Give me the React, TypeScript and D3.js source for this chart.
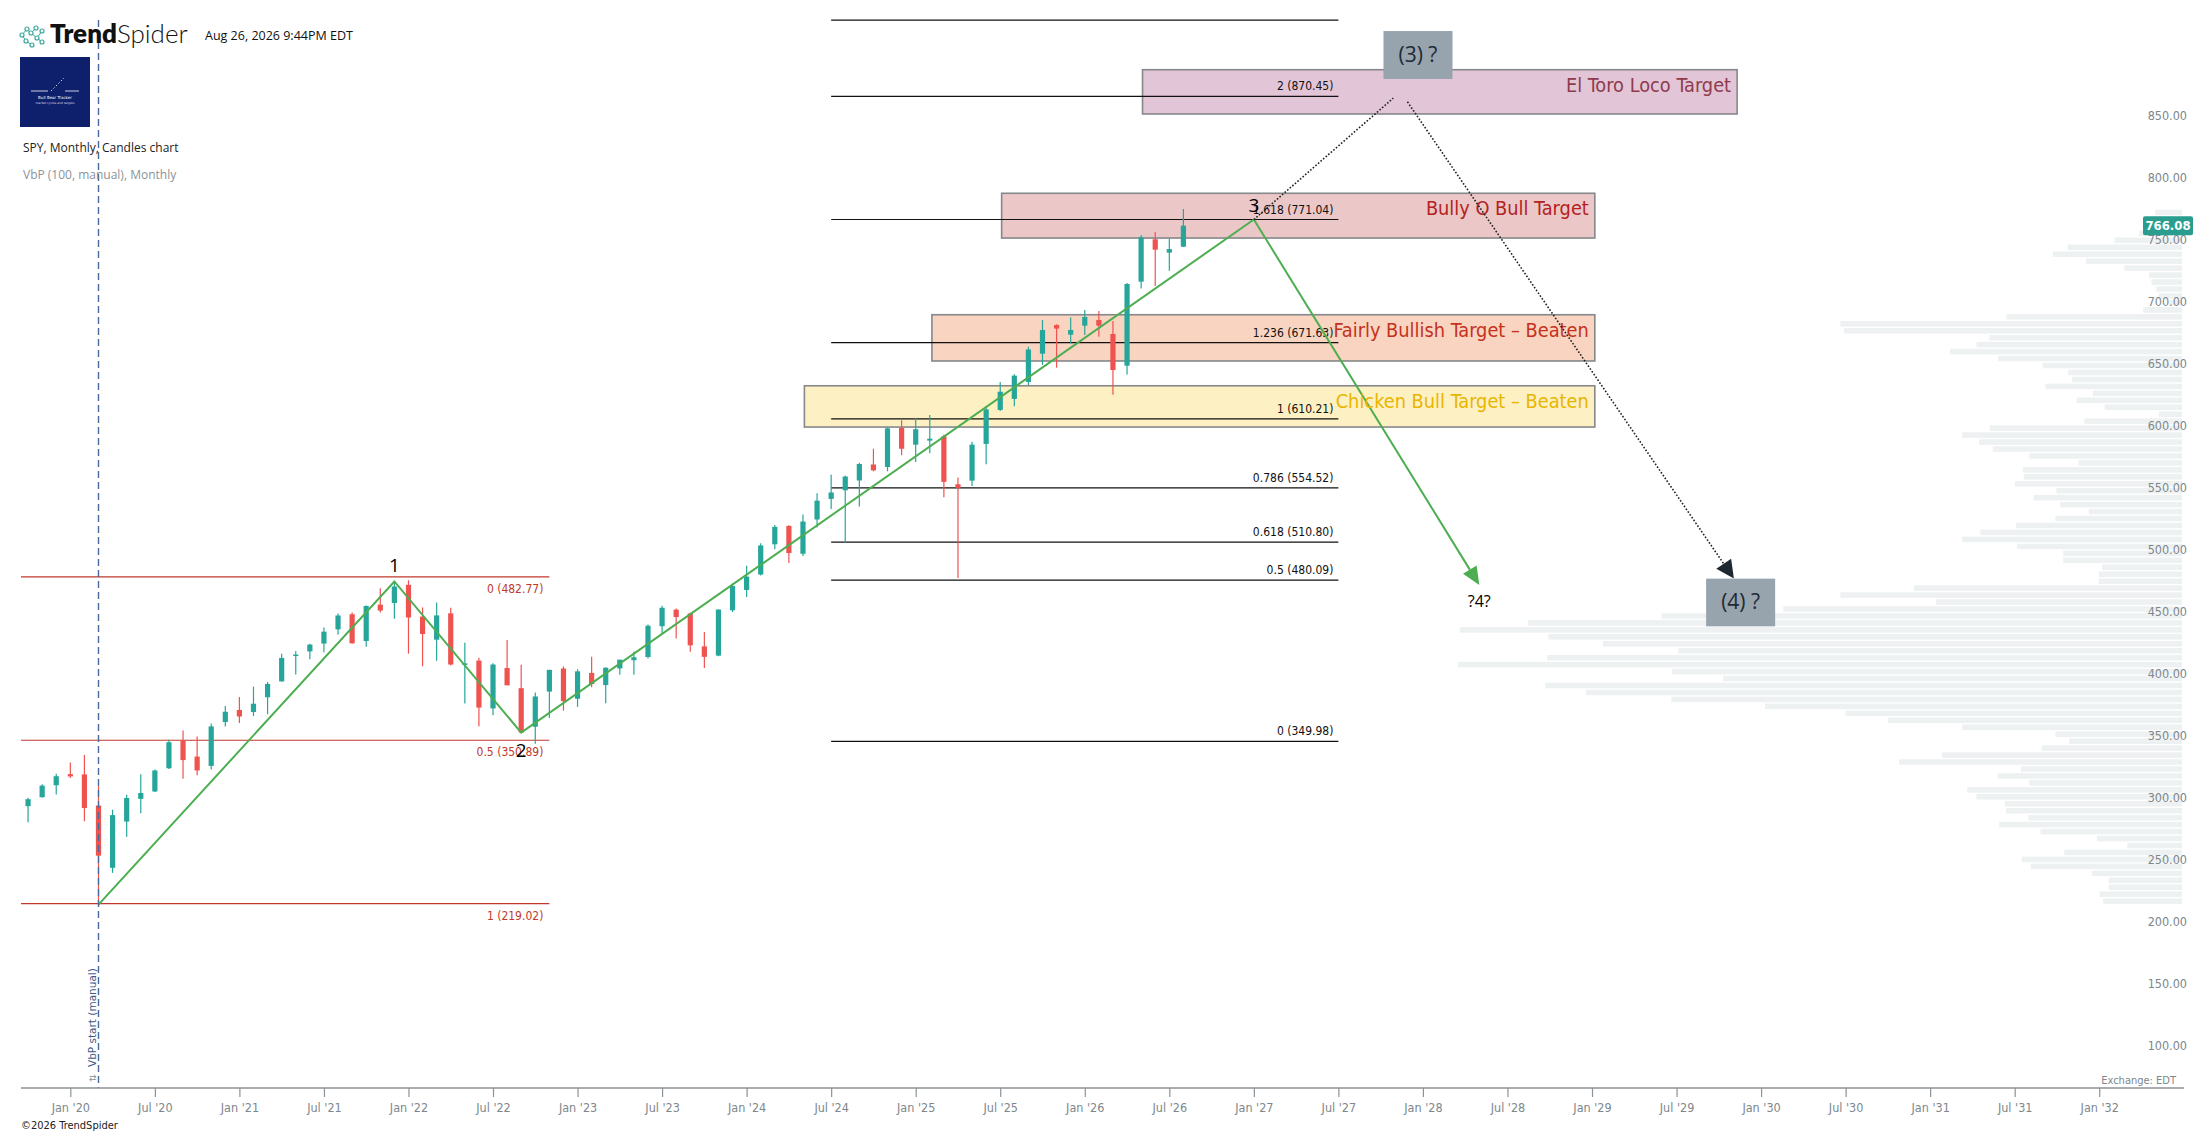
import React, { useEffect, useRef } from 'react';
import * as d3 from 'd3';

const WIDTH = 2207;
const HEIGHT = 1134;

// SPY monthly candles, Oct 2019 .. Aug 2026
const candleMonths = [
  '2019-10', '2019-11', '2019-12',
  '2020-01', '2020-02', '2020-03', '2020-04', '2020-05', '2020-06', '2020-07', '2020-08', '2020-09', '2020-10', '2020-11', '2020-12',
  '2021-01', '2021-02', '2021-03', '2021-04', '2021-05', '2021-06', '2021-07', '2021-08', '2021-09', '2021-10', '2021-11', '2021-12',
  '2022-01', '2022-02', '2022-03', '2022-04', '2022-05', '2022-06', '2022-07', '2022-08', '2022-09', '2022-10', '2022-11', '2022-12',
  '2023-01', '2023-02', '2023-03', '2023-04', '2023-05', '2023-06', '2023-07', '2023-08', '2023-09', '2023-10', '2023-11', '2023-12',
  '2024-01', '2024-02', '2024-03', '2024-04', '2024-05', '2024-06', '2024-07', '2024-08', '2024-09', '2024-10', '2024-11', '2024-12',
  '2025-01', '2025-02', '2025-03', '2025-04', '2025-05', '2025-06', '2025-07', '2025-08', '2025-09', '2025-10', '2025-11', '2025-12',
  '2026-01', '2026-02', '2026-03', '2026-04', '2026-05', '2026-06', '2026-07', '2026-08',
];
const openPrices = [
  297.74, 304.92, 314.59,
  323.54, 323.35, 298.21, 247.98, 285.31, 303.62, 309.57, 328.32, 350.35, 337.69, 330.2, 365.57,
  375.31, 373.72, 385.59, 398.4, 419.43, 422.57, 428.87, 440.34, 452.56, 430.98, 460.3, 461.64,
  476.3, 450.68, 432.03, 453.31, 412.07, 415.17, 376.56, 409.15, 392.89, 361.8, 390.14, 408.77,
  384.37, 405.21, 395.41, 408.85, 415.47, 418.09, 442.92, 456.27, 453.17, 426.62, 419.2, 455.77,
  472.16, 484.63, 508.98, 523.83, 501.38, 529.02, 545.63, 552.57, 560.47, 573.4, 571.32, 602.97,
  589.39, 592.67, 596.18, 557.45, 560.37, 590.0, 617.4, 626.3, 640.0, 662.8, 685.9, 678.1,
  685.4, 690.0, 678.7, 653.1, 720.9, 755.1, 744.3, 749.1,
];
const highPrices = [
  304.55, 315.48, 323.8,
  332.95, 339.08, 313.84, 294.88, 306.84, 323.41, 327.23, 351.3, 358.75, 354.02, 364.38, 378.46,
  385.85, 394.17, 398.0, 420.72, 422.82, 428.78, 441.8, 453.07, 454.05, 459.56, 473.54, 479.0,
  479.98, 458.12, 462.07, 457.83, 429.66, 417.44, 413.03, 431.73, 411.73, 389.52, 407.68, 410.49,
  408.16, 418.31, 409.7, 415.94, 422.58, 444.3, 459.44, 457.25, 453.67, 438.14, 456.38, 477.55,
  491.62, 509.74, 524.61, 524.38, 533.07, 550.28, 565.16, 564.2, 574.71, 586.12, 603.35, 609.07,
  610.78, 613.23, 597.34, 562.94, 591.74, 620.6, 639.84, 646.19, 668.4, 690.0, 686.5, 691.9,
  698.0, 697.2, 689.2, 719.8, 758.5, 761.0, 755.6, 779.5,
];
const lowPrices = [
  284.82, 304.74, 307.13,
  320.36, 285.54, 218.26, 243.9, 272.99, 292.0, 309.07, 327.73, 319.8, 322.6, 327.24, 362.03,
  364.82, 370.38, 371.88, 398.18, 404.0, 416.3, 421.97, 436.1, 428.78, 426.36, 453.96, 448.92,
  420.76, 410.64, 415.12, 411.21, 380.54, 362.17, 371.04, 395.98, 357.04, 348.11, 368.79, 374.77,
  377.83, 393.64, 380.65, 403.78, 403.74, 416.79, 437.06, 433.01, 422.29, 409.21, 418.65, 454.31,
  466.43, 483.8, 504.91, 493.86, 499.55, 522.6, 537.45, 510.27, 539.44, 567.89, 567.89, 580.91,
  575.35, 582.44, 546.87, 481.8, 556.04, 573.5, 616.49, 620.3, 637.5, 653.7, 651.5, 671.1,
  677.9, 676.5, 629.7, 645.9, 715.3, 717.4, 729.8, 749.1,
];
const closePrices = [
  303.33, 314.31, 321.86,
  321.73, 296.26, 257.75, 290.48, 304.32, 308.36, 326.52, 349.31, 334.89, 326.54, 362.06, 373.88,
  370.07, 380.36, 396.33, 417.3, 420.04, 428.06, 438.51, 451.56, 429.14, 459.25, 455.56, 474.96,
  449.91, 436.63, 451.64, 412.0, 412.93, 377.25, 411.99, 395.18, 357.18, 386.21, 407.68, 382.43,
  406.48, 396.26, 409.39, 415.93, 417.85, 443.28, 457.79, 450.35, 427.48, 418.2, 456.4, 475.31,
  482.88, 508.08, 523.07, 501.98, 527.37, 544.22, 550.81, 563.68, 573.76, 568.64, 602.55, 586.08,
  601.82, 594.18, 559.39, 554.54, 589.39, 617.85, 632.08, 645.05, 666.18, 681.9, 683.0, 681.9,
  692.4, 685.4, 649.6, 719.0, 756.7, 746.7, 747.2, 766.08,
];
const lastPrice = 766.08;

// volume by price, 100 rows from the top (779.5) down to the VbP low (218.26)
const vbpHigh = 779.5;
const vbpLow = 218.26;
const vbpVolumes = [
  54, 47, 37, 87, 137, 232, 262, 195, 117, 67,
  62, 52, 47, 27, 79, 356, 693, 686, 391, 417,
  471, 373, 283, 231, 223, 277, 181, 214, 157, 47,
  198, 390, 446, 412, 384, 310, 210, 323, 321, 339,
  255, 301, 247, 189, 257, 337, 409, 446, 335, 241,
  241, 162, 169, 169, 544, 693, 499, 809, 1056, 1327,
  1465, 1286, 1175, 1022, 1288, 1469, 1035, 931, 1292, 1209,
  1036, 846, 683, 597, 446, 257, 229, 285, 487, 574,
  327, 374, 310, 436, 417, 360, 357, 312, 371, 287,
  173, 111, 239, 325, 307, 183, 149, 149, 167, 160,
];

const priceTicks = [850, 800, 750, 700, 650, 600, 550, 500, 450, 400, 350, 300, 250, 200, 150, 100];
const timeTicks = [
  "Jan '20", "Jul '20", "Jan '21", "Jul '21", "Jan '22", "Jul '22", "Jan '23", "Jul '23", "Jan '24",
  "Jul '24", "Jan '25", "Jul '25", "Jan '26", "Jul '26", "Jan '27", "Jul '27", "Jan '28", "Jul '28",
  "Jan '29", "Jul '29", "Jan '30", "Jul '30", "Jan '31", "Jul '31", "Jan '32",
];

// fib retracement (red) and extension (black); months counted from Jan 2020
const retraceRatios = ['0', '0.5', '1'];
const retracePrices = [482.77, 350.89, 219.02];
const retraceSpan = [-3.5, 34.0];
const extRatios = ['0', '0.5', '0.618', '0.786', '1', '1.236', '1.618', '2', '2.236'];
const extPrices = [349.98, 480.09, 510.8, 554.52, 610.21, 671.63, 771.04, 870.45, 931.85];
const extSpan = [54.0, 90.0];

// wave count
const waveMonths = [2, 23, 32, 84];
const wavePrices = [218.26, 479.0, 357.04, 771.04];
const waveLabels = ['', '1', '2', '3'];
const wave4Month = 100;
const wave4Price = 476.2;

// target zones
const zoneNames = ['El Toro Loco Target', 'Bully O Bull Target', 'Fairly Bullish Target – Beaten', 'Chicken Bull Target – Beaten'];
const zoneHigh = [891.9, 792.2, 694.2, 636.9];
const zoneLow = [856.2, 756.1, 656.9, 603.6];
const zoneFrom = [76.1, 66.1, 61.15, 52.1];
const zoneTo = [118.3, 108.2, 108.2, 108.2];

// question boxes and dotted path
const boxLabels = ['(3) ?', '(4) ?'];
const boxFrom = [93.2, 116.1];
const boxTo = [98.1, 121.0];
const boxHigh = [923.1, 481.3];
const boxLow = [884.4, 442.8];
const dottedUp = [[84, 771.04], [93.9, 869]];
const dottedDown = [[94.9, 866], [118.07, 481.3]];

const zoneFill = ['#e2c5d6', '#ebc7c8', '#f8d4c1', '#fdf0c3'];
const zoneText = ['#8f3b4d', '#b3221f', '#c4321c', '#e8b600'];
const NARROW = "'Liberation Sans Narrow', 'DejaVu Sans Condensed', 'Roboto Condensed', sans-serif";
const UP = '#26a69a';
const DOWN = '#ef5350';

const monthIndex = (s: string) => {
  const [yy, mm] = s.split('-').map(Number);
  return (yy - 2020) * 12 + (mm - 1);
};

const App: React.FC = () => {
  const svgRef = useRef<SVGSVGElement>(null);

  useEffect(() => {
    document.body.style.margin = '0';
    if (!svgRef.current) return;
    const svg = d3.select(svgRef.current);
    svg.selectAll('*').remove();

    const x = d3.scaleLinear().domain([2, 79]).range([98.5, 1183.4]);
    const y = d3.scaleLinear().domain([219.02, 870.45]).range([903.7, 96.3]);
    const plotLeft = 21;
    const plotRight = 2184;
    const axisY = 1088;

    const arrowHead = (g: any, x1: number, y1: number, x2: number, y2: number, len: number, half: number, fill: string) => {
      const a = Math.atan2(y2 - y1, x2 - x1);
      const bx = x2 - len * Math.cos(a);
      const by = y2 - len * Math.sin(a);
      const px = -Math.sin(a) * half;
      const py = Math.cos(a) * half;
      g.append('path')
        .attr('d', `M${x2},${y2}L${bx + px},${by + py}L${bx - px},${by - py}Z`)
        .attr('fill', fill);
      return [bx, by];
    };

    // Volume by price
    const binSize = (vbpHigh - vbpLow) / vbpVolumes.length;
    const vbpW = d3.scaleLinear().domain([0, d3.max(vbpVolumes) || 1]).range([0, 724]);
    const vbpRight = 2182;
    svg.append('g')
      .selectAll('rect')
      .data(vbpVolumes)
      .enter()
      .append('rect')
      .attr('x', d => vbpRight - vbpW(d))
      .attr('y', (d, i) => y(vbpHigh - i * binSize) + 0.7)
      .attr('width', d => vbpW(d))
      .attr('height', y(0) - y(binSize) - 1.4)
      .attr('fill', '#eef1f2');

    // Zones
    const zones = svg.append('g');
    zoneNames.forEach((name, i) => {
      const x0 = x(zoneFrom[i]);
      const x1 = x(zoneTo[i]);
      const y0 = y(zoneHigh[i]);
      const y1 = y(zoneLow[i]);
      zones.append('rect')
        .attr('x', x0).attr('y', y0)
        .attr('width', x1 - x0).attr('height', y1 - y0)
        .attr('fill', zoneFill[i])
        .attr('stroke', '#85878a')
        .attr('stroke-width', 1.6);
    });

    // Fib retracement (red)
    const fib = svg.append('g');
    retracePrices.forEach((p, i) => {
      fib.append('line')
        .attr('x1', plotLeft).attr('x2', x(retraceSpan[1]))
        .attr('y1', y(p)).attr('y2', y(p))
        .attr('stroke', '#c0392b').attr('stroke-width', 1.2);
      fib.append('text')
        .attr('x', x(retraceSpan[1]) - 6).attr('y', y(p) + 16)
        .attr('text-anchor', 'end')
        .attr('font-family', NARROW).attr('font-size', '12px')
        .attr('fill', '#c0392b')
        .text(`${retraceRatios[i]} (${p.toFixed(2)})`);
    });

    // Fib extension (black)
    extPrices.forEach((p, i) => {
      fib.append('line')
        .attr('x1', x(extSpan[0])).attr('x2', x(extSpan[1]))
        .attr('y1', y(p)).attr('y2', y(p))
        .attr('stroke', '#111').attr('stroke-width', 1.2);
      if (extRatios[i] === '2.236') return;
      fib.append('text')
        .attr('x', x(extSpan[1]) - 5).attr('y', y(p) - 6)
        .attr('text-anchor', 'end')
        .attr('font-family', NARROW).attr('font-size', '12px')
        .attr('fill', '#111')
        .text(`${extRatios[i]} (${p.toFixed(2)})`);
    });

    // Candles
    const candles = candleMonths.map((m, i) => ({
      m: monthIndex(m), o: openPrices[i], h: highPrices[i], l: lowPrices[i], c: closePrices[i],
    }));
    const cg = svg.append('g');
    cg.selectAll('.wick')
      .data(candles)
      .enter()
      .append('line')
      .attr('class', 'wick')
      .attr('x1', d => x(d.m)).attr('x2', d => x(d.m))
      .attr('y1', d => y(d.h)).attr('y2', d => y(d.l))
      .attr('stroke', d => (d.c >= d.o ? UP : DOWN))
      .attr('stroke-width', 1.2);
    cg.selectAll('.body')
      .data(candles)
      .enter()
      .append('rect')
      .attr('class', 'body')
      .attr('x', d => x(d.m) - 2.6)
      .attr('y', d => y(Math.max(d.o, d.c)))
      .attr('width', 5.2)
      .attr('height', d => Math.max(1.5, Math.abs(y(d.o) - y(d.c))))
      .attr('fill', d => (d.c >= d.o ? UP : DOWN));

    // Wave lines
    const wave = svg.append('g');
    const linePts: [number, number][] = waveMonths.map((m, i) => [x(m), y(wavePrices[i])]);
    wave.append('path')
      .attr('d', d3.line()(linePts))
      .attr('fill', 'none')
      .attr('stroke', '#4cae50')
      .attr('stroke-width', 2);
    const [x3, y3] = linePts[3];
    const x4 = x(wave4Month);
    const y4 = y(wave4Price);
    const [bx4, by4] = arrowHead(wave, x3, y3, x4, y4, 18, 8, '#4cae50');
    wave.append('line')
      .attr('x1', x3).attr('y1', y3).attr('x2', bx4).attr('y2', by4)
      .attr('stroke', '#4cae50').attr('stroke-width', 2);

    // Zone captions
    zoneNames.forEach((name, i) => {
      svg.append('text')
        .attr('x', x(zoneTo[i]) - 6)
        .attr('y', y(zoneHigh[i]) + 22)
        .attr('text-anchor', 'end')
        .attr('font-family', NARROW).attr('font-size', '19.8px')
        .attr('fill', zoneText[i])
        .text(name);
    });

    // Dotted path to (4)
    const dots = svg.append('g');
    dots.append('line')
      .attr('x1', x(dottedUp[0][0])).attr('y1', y(dottedUp[0][1]))
      .attr('x2', x(dottedUp[1][0])).attr('y2', y(dottedUp[1][1]))
      .attr('stroke', '#222').attr('stroke-width', 1.6).attr('stroke-dasharray', '1.6,1.8');
    const dx0 = x(dottedDown[0][0]);
    const dy0 = y(dottedDown[0][1]);
    const dx1 = x(dottedDown[1][0]);
    const dy1 = y(dottedDown[1][1]);
    const [bxd, byd] = arrowHead(dots, dx0, dy0, dx1, dy1, 18, 9, '#1e2830');
    dots.append('line')
      .attr('x1', dx0).attr('y1', dy0).attr('x2', bxd).attr('y2', byd)
      .attr('stroke', '#222').attr('stroke-width', 1.6).attr('stroke-dasharray', '1.6,1.8');

    // Question boxes
    boxLabels.forEach((label, i) => {
      const bx0 = x(boxFrom[i]);
      const bx1 = x(boxTo[i]);
      const by0 = y(boxHigh[i]);
      const by1 = y(boxLow[i]);
      svg.append('rect')
        .attr('x', bx0).attr('y', by0)
        .attr('width', bx1 - bx0).attr('height', by1 - by0)
        .attr('fill', '#97a4ad');
      svg.append('text')
        .attr('x', (bx0 + bx1) / 2).attr('y', (by0 + by1) / 2 + 7)
        .attr('text-anchor', 'middle')
        .attr('font-family', "'Open Sans', sans-serif").attr('font-size', '21px')
        .attr('fill', '#1f2a36')
        .text(label);
    });

    // Wave labels
    const labelShift = [0, -16, 17, -15];
    waveLabels.forEach((lab, i) => {
      if (!lab) return;
      svg.append('text')
        .attr('x', linePts[i][0]).attr('y', linePts[i][1] + labelShift[i] + 7)
        .attr('text-anchor', 'middle')
        .attr('font-family', "'Open Sans', sans-serif").attr('font-size', '19px')
        .attr('fill', '#000')
        .text(lab);
    });
    svg.append('text')
      .attr('x', x4).attr('y', y4 + 22)
      .attr('text-anchor', 'middle')
      .attr('font-family', "'Open Sans', sans-serif").attr('font-size', '16px')
      .attr('fill', '#000')
      .text('?4?');

    // VbP start marker
    const vx = x(2);
    svg.append('line')
      .attr('x1', vx).attr('x2', vx).attr('y1', 20).attr('y2', axisY)
      .attr('stroke', '#4a6a9c').attr('stroke-width', 1.4).attr('stroke-dasharray', '7,4');
    svg.append('text')
      .attr('transform', `translate(${vx - 3},1067) rotate(-90)`)
      .attr('font-family', "'DejaVu Sans', sans-serif").attr('font-size', '10.5px')
      .attr('fill', '#3d5a88')
      .text('VbP start (manual)');
    svg.append('text')
      .attr('transform', `translate(${vx - 3},1082) rotate(-90)`)
      .attr('font-family', "'DejaVu Sans', sans-serif").attr('font-size', '9px')
      .attr('fill', '#8a9399')
      .text('⇅');

    // Time axis
    const tickMonths = timeTicks.map((t, i) => i * 6);
    const xAxis = svg.append('g')
      .attr('transform', `translate(0,${axisY})`)
      .call(d3.axisBottom(x).tickValues(tickMonths).tickFormat((d, i) => timeTicks[i]).tickSize(9).tickPadding(6) as any);
    xAxis.select('.domain').remove();
    xAxis.selectAll('.tick line').attr('stroke', '#8c9296').attr('stroke-width', 1.2);
    xAxis.selectAll('text')
      .attr('font-family', NARROW).attr('font-size', '12.5px')
      .attr('fill', '#7d878c');
    svg.append('line')
      .attr('x1', plotLeft).attr('x2', plotRight)
      .attr('y1', axisY).attr('y2', axisY)
      .attr('stroke', '#8c9296').attr('stroke-width', 1.6);

    // Price axis
    const yAxis = svg.append('g')
      .attr('transform', 'translate(2187,0)')
      .call(d3.axisLeft(y).tickValues(priceTicks).tickFormat(d => (+d).toFixed(2)).tickSize(0).tickPadding(0) as any);
    yAxis.select('.domain').remove();
    yAxis.selectAll('text')
      .attr('dy', '-0.15em')
      .attr('font-family', NARROW).attr('font-size', '12.5px')
      .attr('fill', '#7d878c');

    // Last price tag
    const ly = y(lastPrice);
    svg.append('rect')
      .attr('x', 2143).attr('y', ly - 9.5)
      .attr('width', 50).attr('height', 19)
      .attr('rx', 2)
      .attr('fill', '#2a9d8f');
    svg.append('text')
      .attr('x', 2168).attr('y', ly + 4.5)
      .attr('text-anchor', 'middle')
      .attr('font-family', NARROW).attr('font-size', '13px').attr('font-weight', 'bold')
      .attr('fill', '#fff')
      .text(lastPrice.toFixed(2));

    svg.append('text')
      .attr('x', 2176).attr('y', 1084)
      .attr('text-anchor', 'end')
      .attr('font-family', NARROW).attr('font-size', '11px')
      .attr('fill', '#7d878c')
      .text('Exchange: EDT');
    svg.append('text')
      .attr('x', 21).attr('y', 1129)
      .attr('font-family', NARROW).attr('font-size', '11px')
      .attr('fill', '#222')
      .text('©2026 TrendSpider');

    // Header
    const head = svg.append('g');
    const nodes = [[22, 35], [27, 29], [26, 41], [31, 33], [32, 45], [36, 28], [37, 38], [42, 42], [42, 31]];
    const links = [[0, 1], [0, 2], [1, 3], [2, 4], [3, 6], [5, 3], [6, 7], [6, 8]];
    links.forEach(([a, b]) => {
      head.append('line')
        .attr('x1', nodes[a][0]).attr('y1', nodes[a][1])
        .attr('x2', nodes[b][0]).attr('y2', nodes[b][1])
        .attr('stroke', '#3aa99c').attr('stroke-width', 1);
    });
    nodes.forEach(([cx, cy]) => {
      head.append('circle')
        .attr('cx', cx).attr('cy', cy).attr('r', 2)
        .attr('fill', '#fff').attr('stroke', '#3aa99c').attr('stroke-width', 1.2);
    });
    const brand = head.append('text')
      .attr('x', 50).attr('y', 43)
      .attr('font-family', 'Lato, sans-serif').attr('font-size', '26px')
      .attr('fill', '#111');
    brand.append('tspan').attr('font-weight', 800).text('Trend');
    brand.append('tspan').attr('font-weight', 300).text('Spider');
    head.append('text')
      .attr('x', 205).attr('y', 40)
      .attr('font-family', "'Open Sans', sans-serif").attr('font-size', '12.5px')
      .attr('fill', '#111')
      .text('Aug 26, 2026 9:44PM EDT');

    head.append('rect')
      .attr('x', 20).attr('y', 57).attr('width', 70).attr('height', 70)
      .attr('fill', '#0e1f6c');
    head.append('line').attr('x1', 31).attr('x2', 48).attr('y1', 91).attr('y2', 91).attr('stroke', '#fff').attr('stroke-width', 0.8);
    head.append('line').attr('x1', 65).attr('x2', 79).attr('y1', 91).attr('y2', 91).attr('stroke', '#fff').attr('stroke-width', 0.8);
    head.append('line').attr('x1', 51).attr('x2', 64).attr('y1', 91).attr('y2', 78)
      .attr('stroke', '#fff').attr('stroke-width', 0.8).attr('stroke-dasharray', '1.5,2');
    head.append('text').attr('x', 55).attr('y', 99).attr('text-anchor', 'middle')
      .attr('font-family', "'DejaVu Sans', sans-serif").attr('font-size', '4px').attr('fill', '#fff')
      .text('Bull Bear Tracker');
    head.append('text').attr('x', 55).attr('y', 104).attr('text-anchor', 'middle')
      .attr('font-family', "'DejaVu Sans', sans-serif").attr('font-size', '3px').attr('fill', '#cfd6ea')
      .text('market cycles and targets');

    head.append('text')
      .attr('x', 23).attr('y', 152)
      .attr('font-family', "'Open Sans', sans-serif").attr('font-size', '12px')
      .attr('fill', '#222')
      .text('SPY, Monthly, Candles chart');
    head.append('text')
      .attr('x', 23).attr('y', 179)
      .attr('font-family', "'Open Sans', sans-serif").attr('font-size', '12px')
      .attr('fill', '#8a9399')
      .text('VbP (100, manual), Monthly');
  }, []);

  return (
    <svg
      ref={svgRef}
      width={WIDTH}
      height={HEIGHT}
      viewBox={`0 0 ${WIDTH} ${HEIGHT}`}
      style={{ display: 'block', background: '#fff' }}
    />
  );
};

export default App;
